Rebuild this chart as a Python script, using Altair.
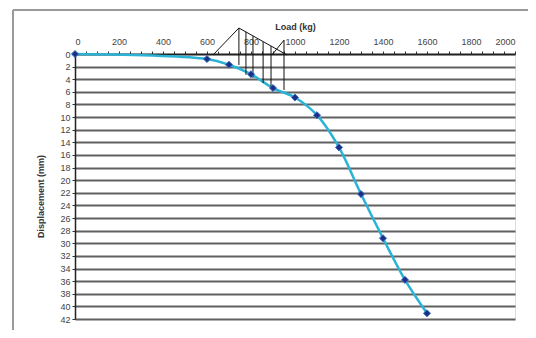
import altair as alt
import pandas as pd

# Data
load_kg = [0, 600, 700, 800, 900, 1000, 1100, 1200, 1300, 1400, 1500, 1600]
displacement_mm = [0, 0.8, 1.7, 3.2, 5.4, 6.9, 9.7, 14.8, 22.2, 29.2, 35.8, 41.1]

x_ticks = list(range(0, 2001, 50))
y_ticks = list(range(0, 43, 2))

# Sketch of loading frame drawn on the chart (in data units: load, displacement)
sketch_x1 = [627, 745, 895, 745, 777, 809, 855, 891, 950]
sketch_y1 = [0.16, -4.12, 0.16, -4.12, -3.5, -2.85, -1.9, -1.27, -2.2]
sketch_x2 = [745, 964, 950, 745, 777, 809, 855, 891, 950]
sketch_y2 = [-4.12, 0.16, -2.2, 1.74, 3.3, 3.8, 4.6, 5.2, 5.7]

df = pd.DataFrame({"load": load_kg, "disp": displacement_mm})
sk = pd.DataFrame({"load": sketch_x1, "disp": sketch_y1, "load2": sketch_x2, "disp2": sketch_y2})

xscale = alt.Scale(domain=[0, 2000], nice=False, zero=False)
yscale = alt.Scale(domain=[0, 42], reverse=True, nice=False, zero=False)

W, H = 440, 265

x_axis = alt.Axis(
    orient="top", values=x_ticks, title="Load (kg)",
    labelExpr="datum.value % 200 == 0 ? datum.label : ''",
    format="d", grid=False, tickSize=3, tickColor="#333", domainColor="#222",
    domainWidth=1.5, labelFontSize=9, labelColor="#444", labelPadding=5,
    labelOverlap=False,
    titleFontSize=9, titleFontWeight="bold", titleColor="#333", titlePadding=6,
    labelFont="Liberation Sans", titleFont="Liberation Sans",
)
y_axis = alt.Axis(
    values=y_ticks, title="Displacement (mm)", grid=True, gridColor="#606060",
    gridWidth=2, tickSize=3, tickColor="#333", domainColor="#222", domainWidth=1.5,
    labelFontSize=9, labelColor="#444", labelPadding=2, labelOverlap=False,
    titleFontSize=9,
    titleFontWeight="bold", titleColor="#333", titlePadding=14, titleY=142,
    labelFont="Liberation Sans", titleFont="Liberation Sans",
)

X = alt.X("load:Q", scale=xscale, axis=x_axis)
Y = alt.Y("disp:Q", scale=yscale, axis=y_axis)

line = alt.Chart(df).mark_line(
    color="#2BB3D6", strokeWidth=2.5, interpolate="catmull-rom"
).encode(x=X, y=Y)

pts = alt.Chart(df).mark_point(
    shape="diamond", filled=True, color="#1B2F86", size=50, opacity=1,
    stroke="#3A6FC0", strokeWidth=1,
).encode(x=X, y=Y)

sketch = alt.Chart(sk).mark_rule(color="#111", strokeWidth=1, clip=False).encode(
    x=X, y=Y, x2="load2:Q", y2="disp2:Q"
)

frame_left = alt.Chart(df).mark_rule(color="#9a9a9a", strokeWidth=2, clip=False).encode(
    x=alt.value(-62), y=alt.value(-44), y2=alt.value(H + 30)
)
frame_top = alt.Chart(df).mark_rule(color="#9a9a9a", strokeWidth=2, clip=False).encode(
    x=alt.value(-62), x2=alt.value(W + 30), y=alt.value(-44)
)

chart = alt.layer(line, sketch, pts, frame_left, frame_top).properties(
    width=W, height=H,
    autosize=alt.AutoSizeParams(type="none"),
    padding={"left": 67, "top": 46, "right": 13, "bottom": 11},
).configure_view(stroke=None).configure(background="white")

chart.save("out.html", embed_options={"renderer": "svg", "actions": False})
